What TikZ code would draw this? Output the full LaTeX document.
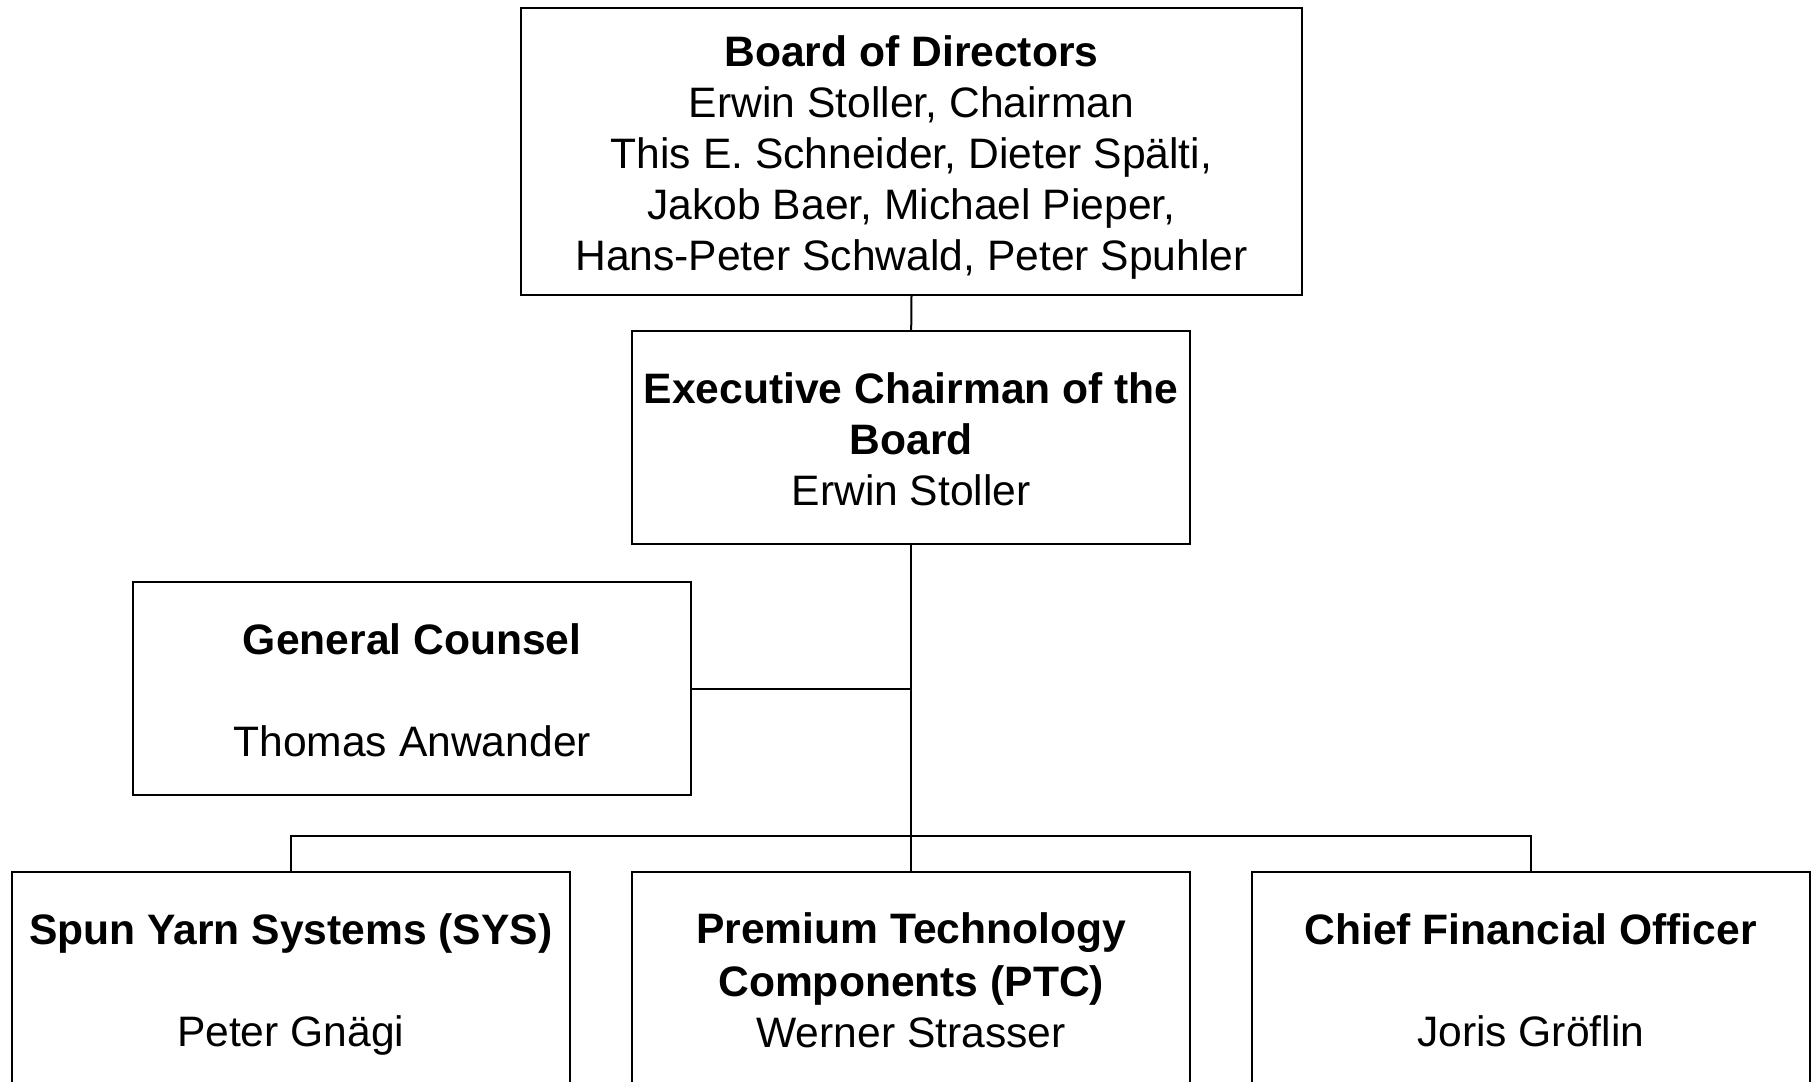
\documentclass[tikz,border=0pt]{standalone}
\usepackage{fontspec}
\setmainfont{Liberation Sans}
\newcommand{\ls}{\rule[-4.5pt]{0pt}{25.5pt}}
\begin{document}
\begin{tikzpicture}[x=0.5pt,y=-0.5pt,
  orgbox/.style={draw=black, line width=1.1pt, fill=white, inner sep=0pt, align=center,
    font=\fontsize{21.3}{25.5}\selectfont},
  smallbox/.style={orgbox, minimum width=279pt, minimum height=106.5pt},
  link/.style={draw=black, line width=1pt}]
\useasboundingbox (0,0) rectangle (1812,1082);
\fill[white] (0,0) rectangle (1812,1082);
\node[orgbox, minimum width=390.5pt, minimum height=143.5pt] (board) at (911.5,151.5)
  {\ls\textbf{Board of Directors}\\\ls Erwin Stoller, Chairman\\\ls This E. Schneider, Dieter Spälti,\\\ls Jakob Baer, Michael Pieper,\\\ls Hans-Peter Schwald, Peter Spuhler};
\node[smallbox] (exec) at (911.2,437.5)
  {\ls\textbf{Executive Chairman of the}\\\ls\textbf{Board}\\\ls Erwin Stoller};
\node[smallbox] (gc) at (412.2,688.7)
  {\ls\textbf{General Counsel}\\\ls\\\ls Thomas Anwander};
\node[smallbox] (sys) at (290.7,978.8)
  {\ls\textbf{Spun Yarn Systems (SYS)}\\\ls\\\ls Peter Gnägi};
\node[smallbox] (ptc) at (911.2,978.8)
  {\ls\textbf{Premium Technology}\\\ls\textbf{Components (PTC)}\\\ls Werner Strasser};
\node[smallbox] (cfo) at (1530.7,978.8)
  {\ls\textbf{Chief Financial Officer}\\\ls\\\ls Joris Gröflin};
\coordinate (busC) at (911.2,836);
\draw[link] (board.south) -- (exec.north);
\draw[link] (exec.south) -- (ptc.north);
\draw[link] (gc.east) -- (gc.east -| exec.south);
\draw[link] (sys.north) |- (busC) -| (cfo.north);
\end{tikzpicture}
\end{document}
